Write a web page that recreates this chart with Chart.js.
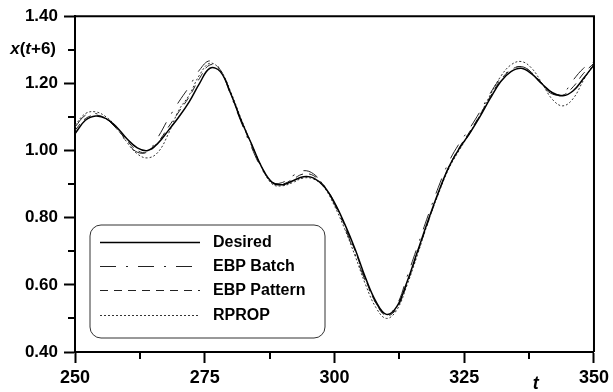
<!DOCTYPE html>
<html>
<head>
<meta charset="utf-8">
<script src="https://cdn.jsdelivr.net/npm/chart.js@4/dist/chart.umd.min.js"></script>
<style>
  html, body { margin: 0; padding: 0; background: #fff; }
  canvas { display: block; }
</style>
</head>
<body>
<canvas id="chart" width="613" height="392"></canvas>
<script>
// time steps t
const tValues = [250, 252, 254, 256, 258, 260, 262, 264, 266, 268,
  270, 272, 274, 276, 278, 280, 282, 284, 286, 288,
  290, 292, 294, 296, 298, 300, 302, 304, 306, 308,
  310, 312, 314, 316, 318, 320, 322, 324, 326, 328,
  330, 332, 334, 336, 338, 340, 342, 344, 346, 348, 350]

// x(t+6) for each series
const desired = [1.05, 1.09, 1.103, 1.095, 1.07, 1.035, 1.008, 1.0, 1.022, 1.06,
  1.10, 1.145, 1.20, 1.245, 1.235, 1.17, 1.09, 1.02, 0.95, 0.905,
  0.898, 0.91, 0.922, 0.918, 0.893, 0.845, 0.78, 0.705, 0.62, 0.55,
  0.512, 0.535, 0.61, 0.70, 0.79, 0.875, 0.95, 1.005, 1.05, 1.10,
  1.155, 1.205, 1.235, 1.245, 1.228, 1.198, 1.172, 1.163, 1.178, 1.215, 1.255]

const ebpBatch = [1.07, 1.105, 1.11, 1.095, 1.065, 1.025, 0.995, 0.997, 1.04, 1.095,
  1.145, 1.19, 1.24, 1.267, 1.24, 1.165, 1.085, 1.01, 0.945, 0.905,
  0.905, 0.925, 0.94, 0.93, 0.895, 0.84, 0.77, 0.69, 0.61, 0.545,
  0.512, 0.54, 0.625, 0.715, 0.805, 0.89, 0.965, 1.02, 1.065, 1.115,
  1.17, 1.215, 1.24, 1.25, 1.232, 1.195, 1.168, 1.17, 1.21, 1.245, 1.265]

const ebpPattern = [1.06, 1.095, 1.105, 1.095, 1.065, 1.03, 1.0, 0.995, 1.025, 1.07,
  1.115, 1.16, 1.215, 1.255, 1.24, 1.17, 1.09, 1.015, 0.948, 0.905,
  0.9, 0.915, 0.93, 0.925, 0.895, 0.845, 0.775, 0.70, 0.615, 0.545,
  0.508, 0.53, 0.605, 0.695, 0.785, 0.872, 0.95, 1.008, 1.055, 1.105,
  1.16, 1.21, 1.24, 1.25, 1.232, 1.2, 1.172, 1.165, 1.19, 1.23, 1.26]

const rprop = [1.075, 1.11, 1.115, 1.10, 1.07, 1.025, 0.99, 0.978, 0.995, 1.05,
  1.12, 1.165, 1.225, 1.26, 1.24, 1.175, 1.095, 1.02, 0.95, 0.9,
  0.895, 0.905, 0.918, 0.915, 0.89, 0.835, 0.765, 0.685, 0.60, 0.532,
  0.50, 0.525, 0.60, 0.69, 0.785, 0.87, 0.945, 1.0, 1.05, 1.105,
  1.165, 1.22, 1.255, 1.265, 1.245, 1.2, 1.152, 1.133, 1.155, 1.21, 1.26]

const seriesNames = ['Desired', 'EBP Batch', 'EBP Pattern', 'RPROP']

const FONT_FAMILY = '"Liberation Sans", Arial, sans-serif'

function toPoints(values) {
  return tValues.map((t, i) => ({ x: t, y: values[i] }))
}

// frame, minor ticks, axis titles and the legend box
const decorations = {
  id: 'decorations',
  afterDraw(chart) {
    const ctx = chart.ctx
    const area = chart.chartArea
    const xs = chart.scales.x
    const ys = chart.scales.y
    ctx.save()

    // top and right axis lines
    ctx.strokeStyle = '#000'
    ctx.lineWidth = 2
    ctx.beginPath()
    ctx.moveTo(area.left, area.top)
    ctx.lineTo(area.right, area.top)
    ctx.lineTo(area.right, area.bottom)
    ctx.stroke()

    // minor ticks
    ctx.beginPath()
    xs.ticks.forEach(tk => {
      if (tk.value % 25 !== 0) {
        const px = Math.round(xs.getPixelForValue(tk.value))
        ctx.moveTo(px, area.bottom)
        ctx.lineTo(px, area.bottom + 7)
      }
    })
    ys.ticks.forEach(tk => {
      if (Math.round(tk.value * 10) % 2 !== 0) {
        const py = Math.round(ys.getPixelForValue(tk.value))
        ctx.moveTo(area.left, py)
        ctx.lineTo(area.left - 7, py)
      }
    })
    ctx.stroke()

    // y title x(t+6) sitting at the 1.30 tick
    const parts = [['x', true], ['(', false], ['t', true], ['+6)', false]]
    const yTitle = ys.getPixelForValue(1.3)
    let total = 0
    parts.forEach(p => {
      ctx.font = (p[1] ? 'italic ' : '') + 'bold 17px ' + FONT_FAMILY
      total += ctx.measureText(p[0]).width
    })
    let cx = area.left - 19 - total
    ctx.fillStyle = '#000'
    ctx.textBaseline = 'middle'
    ctx.textAlign = 'left'
    parts.forEach(p => {
      ctx.font = (p[1] ? 'italic ' : '') + 'bold 17px ' + FONT_FAMILY
      ctx.fillText(p[0], cx, yTitle)
      cx += ctx.measureText(p[0]).width
    })

    // x title t
    ctx.font = 'italic bold 18px ' + FONT_FAMILY
    ctx.textAlign = 'center'
    ctx.fillText('t', xs.getPixelForValue(338.8), 384)

    // legend
    const bx = 90, by = 225, bw = 235, bh = 113, r = 11
    ctx.beginPath()
    ctx.roundRect(bx, by, bw, bh, r)
    ctx.fillStyle = '#fff'
    ctx.fill()
    ctx.lineWidth = 1
    ctx.strokeStyle = '#333'
    ctx.stroke()

    const rows = [242, 266, 290, 315]
    ctx.font = 'bold 16px ' + FONT_FAMILY
    ctx.textAlign = 'left'
    chart.data.datasets.forEach((ds, i) => {
      ctx.beginPath()
      ctx.setLineDash(ds.borderDash || [])
      ctx.strokeStyle = ds.borderColor
      ctx.lineWidth = ds.borderWidth
      ctx.moveTo(100, rows[i] + 0.5)
      ctx.lineTo(200, rows[i] + 0.5)
      ctx.stroke()
      ctx.setLineDash([])
      ctx.fillStyle = '#000'
      ctx.fillText(ds.label, 213, rows[i] + 1)
    })
    ctx.restore()
  }
}

const ctx = document.getElementById('chart').getContext('2d')
new Chart(ctx, {
  type: 'line',
  data: {
    datasets: [
      { label: seriesNames[0], data: toPoints(desired), borderColor: '#000', borderWidth: 1.5 },
      { label: seriesNames[1], data: toPoints(ebpBatch), borderColor: '#222', borderWidth: 1, borderDash: [16, 10, 2, 10] },
      { label: seriesNames[2], data: toPoints(ebpPattern), borderColor: '#222', borderWidth: 1, borderDash: [8, 6] },
      { label: seriesNames[3], data: toPoints(rprop), borderColor: '#333', borderWidth: 1, borderDash: [2, 2] }
    ]
  },
  options: {
    responsive: false,
    animation: false,
    layout: { padding: { top: 16, right: 14, left: 0, bottom: 0 } },
    elements: {
      point: { radius: 0 },
      line: { tension: 0.4, fill: false }
    },
    plugins: {
      legend: { display: false },
      tooltip: { enabled: false }
    },
    scales: {
      x: {
        type: 'linear',
        min: 250,
        max: 350,
        afterFit: s => { s.height = 40 },
        afterBuildTicks: s => {
          s.ticks = []
          for (let v = 250; v <= 350; v += 12.5) s.ticks.push({ value: v })
        },
        ticks: {
          autoSkip: false,
          maxRotation: 0,
          padding: 4,
          color: '#000',
          font: { family: FONT_FAMILY, size: 18, weight: 'bold' },
          callback: v => (v % 25 === 0 ? String(v) : '')
        },
        border: { display: true, color: '#000', width: 2 },
        grid: {
          drawOnChartArea: false,
          drawTicks: true,
          tickLength: 11,
          tickWidth: 2,
          tickColor: c => (c.tick && c.tick.value % 25 === 0 ? '#000' : 'rgba(0,0,0,0)')
        }
      },
      y: {
        type: 'linear',
        min: 0.4,
        max: 1.4,
        afterFit: s => { s.width = 75 },
        afterBuildTicks: s => {
          s.ticks = []
          for (let k = 4; k <= 14; k++) s.ticks.push({ value: k / 10 })
        },
        ticks: {
          autoSkip: false,
          padding: 6,
          color: '#000',
          font: { family: FONT_FAMILY, size: 17, weight: 'bold' },
          callback: v => (Math.round(v * 10) % 2 === 0 ? v.toFixed(2) : '')
        },
        border: { display: true, color: '#000', width: 2 },
        grid: {
          drawOnChartArea: false,
          drawTicks: true,
          tickLength: 11,
          tickWidth: 2,
          tickColor: c => (c.tick && Math.round(c.tick.value * 10) % 2 === 0 ? '#000' : 'rgba(0,0,0,0)')
        }
      }
    }
  },
  plugins: [decorations]
})
</script>
</body>
</html>
